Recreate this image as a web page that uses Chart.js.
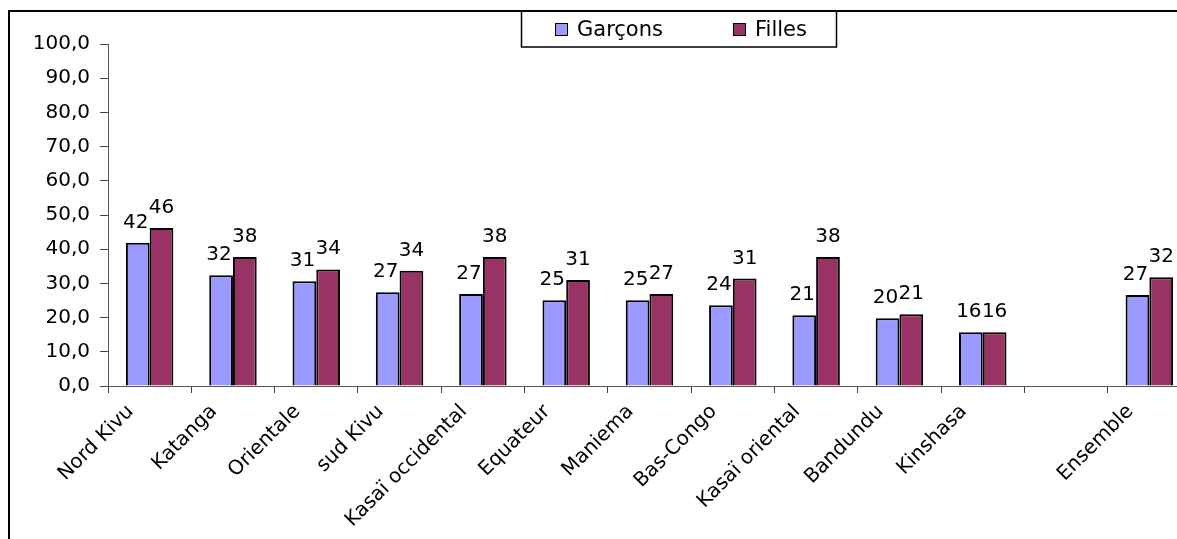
<!DOCTYPE html>
<html>
<head>
<meta charset="utf-8">
<script src="https://cdn.jsdelivr.net/npm/chart.js@4.4.1/dist/chart.umd.min.js"></script>
<style>
  html, body { margin: 0; padding: 0; background: #fff; overflow: hidden; width: 1177px; height: 539px; }
  #wrap { position: absolute; left: 0; top: 0; width: 1200px; height: 539px; }
</style>
</head>
<body>
<div id="wrap"><canvas id="c"></canvas></div>
<script>
const categories = ['Nord Kivu', 'Katanga', 'Orientale', 'sud Kivu', 'Kasaï occidental', 'Equateur',
  'Maniema', 'Bas-Congo', 'Kasaï oriental', 'Bandundu', 'Kinshasa', '', 'Ensemble'];
const garcons = [41.9, 32.4, 30.6, 27.4, 26.9, 25.1, 25.1, 23.6, 20.7, 19.8, 15.7, null, 26.6];
const filles  = [46.2, 37.7, 34.1, 33.7, 37.7, 31.0, 26.9, 31.4, 37.7, 21.0, 15.7, null, 31.8];
const seriesNames = ['Garçons', 'Filles'];
const yTickValues = [0, 10, 20, 30, 40, 50, 60, 70, 80, 90, 100];

const FONT = '"DejaVu Sans", sans-serif';

const dataLabels = {
  id: 'dataLabels',
  afterDatasetsDraw(chart) {
    const ctx = chart.ctx;
    ctx.save();
    ctx.font = '20px ' + FONT;
    ctx.fillStyle = '#000';
    ctx.textAlign = 'center';
    ctx.textBaseline = 'alphabetic';
    chart.data.datasets.forEach((ds, i) => {
      const meta = chart.getDatasetMeta(i);
      const shift = i === 0 ? -2 : 0;
      meta.data.forEach((bar, j) => {
        const v = ds.data[j];
        if (v === null || v === undefined) return;
        ctx.fillText(String(Math.round(v)), bar.x + shift, bar.y - 15);
      });
    });
    ctx.restore();
  }
};

const frameLegend = {
  id: 'frameLegend',
  afterDraw(chart) {
    const ctx = chart.ctx;
    ctx.save();
    ctx.strokeStyle = '#000';
    ctx.lineWidth = 2;
    ctx.beginPath();
    ctx.moveTo(9, 539);
    ctx.lineTo(9, 11);
    ctx.lineTo(chart.width, 11);
    ctx.stroke();
    ctx.lineWidth = 1.5;
    ctx.strokeRect(521.5, 11, 315, 36);
    const xs = [[555, 577], [733, 755]];
    ctx.font = '21px ' + FONT;
    ctx.textBaseline = 'alphabetic';
    ctx.textAlign = 'left';
    chart.data.datasets.forEach((ds, i) => {
      ctx.fillStyle = ds.backgroundColor;
      ctx.fillRect(xs[i][0], 23, 13, 13);
      ctx.lineWidth = 1;
      ctx.strokeStyle = '#000';
      ctx.strokeRect(xs[i][0] + 0.5, 23.5, 12, 12);
      ctx.fillStyle = '#000';
      ctx.fillText(ds.label, xs[i][1], 36);
    });
    ctx.restore();
  }
};

new Chart(document.getElementById('c'), {
  type: 'bar',
  data: {
    labels: categories,
    datasets: [
      { label: seriesNames[0], data: garcons, backgroundColor: '#9999FF', borderColor: '#000', borderWidth: 2, borderSkipped: 'bottom' },
      { label: seriesNames[1], data: filles, backgroundColor: '#993366', borderColor: '#000', borderWidth: 2, borderSkipped: 'bottom' }
    ]
  },
  options: {
    responsive: true,
    maintainAspectRatio: false,
    animation: false,
    layout: { padding: { top: 44, right: 9, bottom: 0, left: 0 } },
    datasets: { bar: { categoryPercentage: 0.57, barPercentage: 1.0 } },
    plugins: { legend: { display: false }, tooltip: { enabled: false } },
    scales: {
      x: {
        grid: { display: true, drawOnChartArea: false, drawTicks: true, tickLength: 7, color: '#444', offset: true },
        border: { display: true, color: '#555', width: 1 },
        ticks: {
          autoSkip: false, maxRotation: 45, minRotation: 45,
          color: '#000', font: { family: FONT, size: 20 },
          padding: 7, labelOffset: -19
        },
        afterFit(scale) { scale.height = 539 - 386; }
      },
      y: {
        min: 0, max: 100,
        afterBuildTicks(scale) { scale.ticks = yTickValues.map(v => ({ value: v })); },
        grid: { display: true, drawOnChartArea: false, drawTicks: true, tickLength: 8, color: '#444' },
        border: { display: true, color: '#555', width: 1 },
        ticks: {
          color: '#000', font: { family: FONT, size: 20 }, padding: 10,
          callback: v => v.toFixed(1).replace('.', ',')
        },
        afterFit(scale) { scale.width = 108; }
      }
    }
  },
  plugins: [dataLabels, frameLegend]
});
</script>
</body>
</html>
